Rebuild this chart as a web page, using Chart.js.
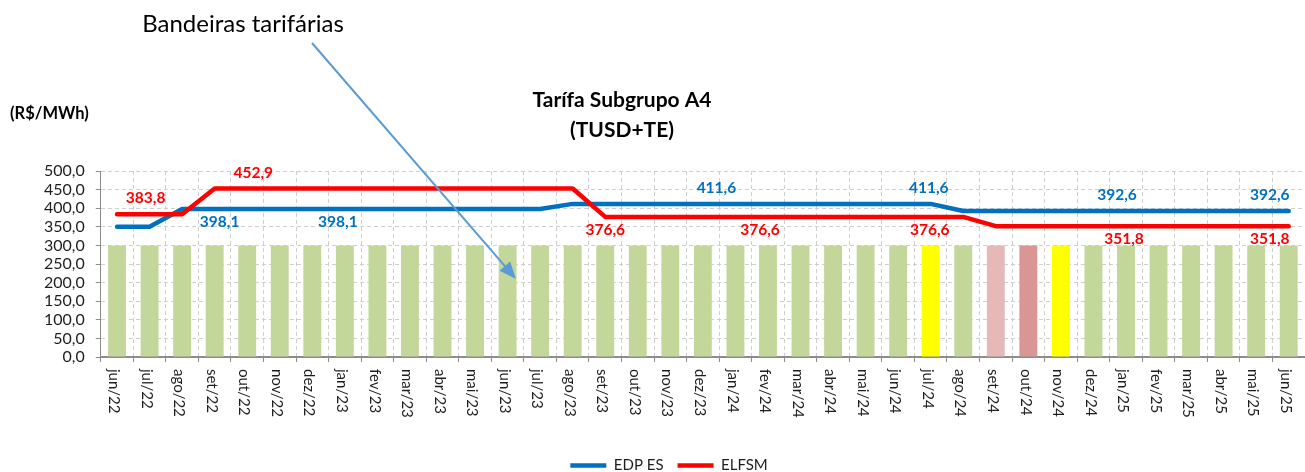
<!DOCTYPE html>
<html lang="pt-BR">
<head>
<meta charset="utf-8">
<title>Tarífa Subgrupo A4</title>
<script src="https://cdn.jsdelivr.net/npm/chart.js@4.4.1/dist/chart.umd.min.js"></script>
<style>
  html, body { margin: 0; padding: 0; background: #fff; }
  canvas { display: block; }
</style>
</head>
<body>
<canvas id="tarifa" width="1305" height="472"></canvas>
<script>
// meses do gráfico
var meses = ['jun/22', 'jul/22', 'ago/22', 'set/22', 'out/22', 'nov/22', 'dez/22',
  'jan/23', 'fev/23', 'mar/23', 'abr/23', 'mai/23', 'jun/23', 'jul/23', 'ago/23', 'set/23',
  'out/23', 'nov/23', 'dez/23', 'jan/24', 'fev/24', 'mar/24', 'abr/24', 'mai/24', 'jun/24',
  'jul/24', 'ago/24', 'set/24', 'out/24', 'nov/24', 'dez/24', 'jan/25', 'fev/25', 'mar/25',
  'abr/25', 'mai/25', 'jun/25'];

// tarifa EDP ES (R$/MWh)
var edpEs = [350.0, 350.0,
  398.1, 398.1, 398.1, 398.1, 398.1, 398.1, 398.1, 398.1, 398.1, 398.1, 398.1, 398.1,
  411.6, 411.6, 411.6, 411.6, 411.6, 411.6, 411.6, 411.6, 411.6, 411.6, 411.6, 411.6,
  392.6, 392.6, 392.6, 392.6, 392.6, 392.6, 392.6, 392.6, 392.6, 392.6, 392.6];

// tarifa ELFSM (R$/MWh)
var elfsm = [383.8, 383.8, 383.8,
  452.9, 452.9, 452.9, 452.9, 452.9, 452.9, 452.9, 452.9, 452.9, 452.9, 452.9, 452.9,
  376.6, 376.6, 376.6, 376.6, 376.6, 376.6, 376.6, 376.6, 376.6, 376.6, 376.6, 376.6,
  351.8, 351.8, 351.8, 351.8, 351.8, 351.8, 351.8, 351.8, 351.8, 351.8];

// barras das bandeiras tarifárias
var barras = [300, 300, 300, 300, 300, 300, 300, 300, 300, 300, 300, 300, 300, 300, 300,
  300, 300, 300, 300, 300, 300, 300, 300, 300, 300, 300, 300, 300, 300, 300, 300, 300,
  300, 300, 300, 300, 300];

var bandeira = ['verde', 'verde', 'verde', 'verde', 'verde', 'verde', 'verde', 'verde',
  'verde', 'verde', 'verde', 'verde', 'verde', 'verde', 'verde', 'verde', 'verde', 'verde',
  'verde', 'verde', 'verde', 'verde', 'verde', 'verde', 'verde', 'amarela', 'verde',
  'vermelha1', 'vermelha2', 'amarela', 'verde', 'verde', 'verde', 'verde', 'verde',
  'verde', 'verde'];

var ticksY = [0, 50, 100, 150, 200, 250, 300, 350, 400, 450, 500];

// quais valores aparecem escritos e de que lado da linha
var rotulos = [
  { serie: 'ELFSM', mes: 'jul/22', lado: 'cima', dx: -4 },
  { serie: 'ELFSM', mes: 'out/22', lado: 'cima', dx: 6 },
  { serie: 'EDP ES', mes: 'set/22', lado: 'baixo', dx: 5 },
  { serie: 'EDP ES', mes: 'jan/23', lado: 'baixo', dx: -7 },
  { serie: 'ELFSM', mes: 'set/23', lado: 'baixo', dx: 0 },
  { serie: 'EDP ES', mes: 'jan/24', lado: 'cima', dx: -19 },
  { serie: 'ELFSM', mes: 'fev/24', lado: 'baixo', dx: -8 },
  { serie: 'EDP ES', mes: 'jul/24', lado: 'cima', dx: -2 },
  { serie: 'ELFSM', mes: 'jul/24', lado: 'baixo', dx: -1 },
  { serie: 'EDP ES', mes: 'jan/25', lado: 'cima', dx: -9 },
  { serie: 'ELFSM', mes: 'jan/25', lado: 'baixo', dx: -2 },
  { serie: 'EDP ES', mes: 'jun/25', lado: 'cima', dx: -19 },
  { serie: 'ELFSM', mes: 'jun/25', lado: 'baixo', dx: -19 }
];

var coresBandeira = {
  verde: '#C4D79B',
  amarela: '#FFFF00',
  vermelha1: '#E6B8B7',
  vermelha2: '#DA9694'
};

function virgula(v) {
  return v.toFixed(1).replace('.', ',');
}

Chart.defaults.font.family = 'Lato, "Open Sans", sans-serif';
Chart.defaults.color = '#1e1e1e';

// valores escritos acima/abaixo das linhas
var pluginRotulos = {
  id: 'rotulos',
  afterDatasetsDraw: function(chart) {
    var ctx = chart.ctx;
    ctx.save();
    ctx.font = 'bold 15.5px Lato';
    ctx.textAlign = 'center';
    ctx.textBaseline = 'middle';
    rotulos.forEach(function(r) {
      var ds = chart.data.datasets.findIndex(function(d) { return d.label === r.serie; });
      var i = meses.indexOf(r.mes);
      var ponto = chart.getDatasetMeta(ds).data[i];
      var valor = chart.data.datasets[ds].data[i];
      var y = r.lado === 'cima' ? ponto.y - 16 : ponto.y + 13;
      ctx.fillStyle = chart.data.datasets[ds].borderColor;
      ctx.fillText(virgula(valor), ponto.x + r.dx, y);
    });
    ctx.restore();
  }
};

// meses na vertical, lidos de cima para baixo
var pluginMeses = {
  id: 'meses',
  afterDraw: function(chart) {
    var ctx = chart.ctx;
    var eixo = chart.scales.x;
    ctx.save();
    ctx.font = '15px Lato';
    ctx.fillStyle = '#1e1e1e';
    ctx.textAlign = 'left';
    ctx.textBaseline = 'middle';
    meses.forEach(function(m, i) {
      ctx.save();
      ctx.translate(eixo.getPixelForTick(i) - 3, eixo.top + 12);
      ctx.rotate(Math.PI / 2);
      ctx.fillText(m, 0, 0);
      ctx.restore();
    });
    ctx.restore();
  }
};

// título, unidade e a chamada das bandeiras com a seta
var pluginTextos = {
  id: 'textos',
  afterDraw: function(chart) {
    var ctx = chart.ctx;
    ctx.save();
    ctx.fillStyle = '#000';
    ctx.textAlign = 'center';
    ctx.textBaseline = 'middle';
    ctx.font = 'bold 21px Lato';
    ctx.fillText('Tarífa Subgrupo A4', 622, 100);
    ctx.fillText('(TUSD+TE)', 622, 130);
    ctx.font = '24px Lato';
    ctx.fillText('Bandeiras tarifárias', 243, 24);
    ctx.textAlign = 'left';
    ctx.font = 'bold 16.5px Lato';
    ctx.fillText('(R$/MWh)', 10, 114);

    // seta
    var x1 = 312, y1 = 43, x2 = 516, y2 = 279;
    var ang = Math.atan2(y2 - y1, x2 - x1);
    ctx.strokeStyle = '#5B9BD5';
    ctx.fillStyle = '#5B9BD5';
    ctx.lineWidth = 2;
    ctx.beginPath();
    ctx.moveTo(x1, y1);
    ctx.lineTo(x2 - 12 * Math.cos(ang), y2 - 12 * Math.sin(ang));
    ctx.stroke();
    ctx.beginPath();
    ctx.moveTo(x2, y2);
    ctx.lineTo(x2 - 17 * Math.cos(ang) + 7 * Math.sin(ang), y2 - 17 * Math.sin(ang) - 7 * Math.cos(ang));
    ctx.lineTo(x2 - 17 * Math.cos(ang) - 7 * Math.sin(ang), y2 - 17 * Math.sin(ang) + 7 * Math.cos(ang));
    ctx.closePath();
    ctx.fill();
    ctx.restore();
  }
};

var ctx = document.getElementById('tarifa');
var grafico = new Chart(ctx, {
  type: 'bar',
  data: {
    labels: meses,
    datasets: [{
      type: 'line',
      label: 'EDP ES',
      data: edpEs,
      borderColor: '#0070C0',
      backgroundColor: '#0070C0',
      borderWidth: 4.5,
      borderCapStyle: 'round',
      borderJoinStyle: 'round',
      pointRadius: 0,
      tension: 0,
      order: 1
    }, {
      type: 'line',
      label: 'ELFSM',
      data: elfsm,
      borderColor: '#FF0000',
      backgroundColor: '#FF0000',
      borderWidth: 4.5,
      borderCapStyle: 'round',
      borderJoinStyle: 'round',
      pointRadius: 0,
      tension: 0,
      order: 0
    }, {
      label: 'Bandeiras',
      data: barras,
      backgroundColor: bandeira.map(function(b) { return coresBandeira[b]; }),
      categoryPercentage: 1,
      barPercentage: 0.55,
      order: 2
    }]
  },
  options: {
    responsive: false,
    animation: false,
    devicePixelRatio: 1,
    layout: { padding: { top: 171, left: 33, right: 0, bottom: -11 } },
    plugins: {
      tooltip: { enabled: false },
      title: { display: false },
      legend: {
        position: 'bottom',
        labels: {
          usePointStyle: true,
          pointStyle: 'line',
          pointStyleWidth: 36,
          padding: 14,
          font: { size: 15 },
          color: '#1e1e1e',
          filter: function(item) { return item.datasetIndex !== 2; },
          sort: function(a, b) { return a.datasetIndex - b.datasetIndex; }
        }
      }
    },
    scales: {
      x: {
        offset: true,
        grid: { offset: true, color: '#cfcfcf', tickColor: '#8c8c8c', tickLength: 5, tickBorderDash: [] },
        border: { color: '#8c8c8c', width: 2, dash: [4, 3] },
        ticks: { display: false },
        afterFit: function(s) { s.height = 87; }
      },
      y: {
        min: 0,
        max: 500,
        afterBuildTicks: function(s) { s.ticks = ticksY.map(function(v) { return { value: v }; }); },
        ticks: {
          autoSkip: false,
          padding: 11,
          font: { size: 16 },
          color: '#1e1e1e',
          callback: function(v) { return virgula(v); }
        },
        grid: { color: '#cfcfcf', tickColor: '#8c8c8c', tickLength: 5, tickBorderDash: [] },
        border: { color: '#8c8c8c', width: 1, dash: [4, 3] }
      }
    }
  },
  plugins: [pluginRotulos, pluginMeses, pluginTextos]
});
</script>
</body>
</html>
